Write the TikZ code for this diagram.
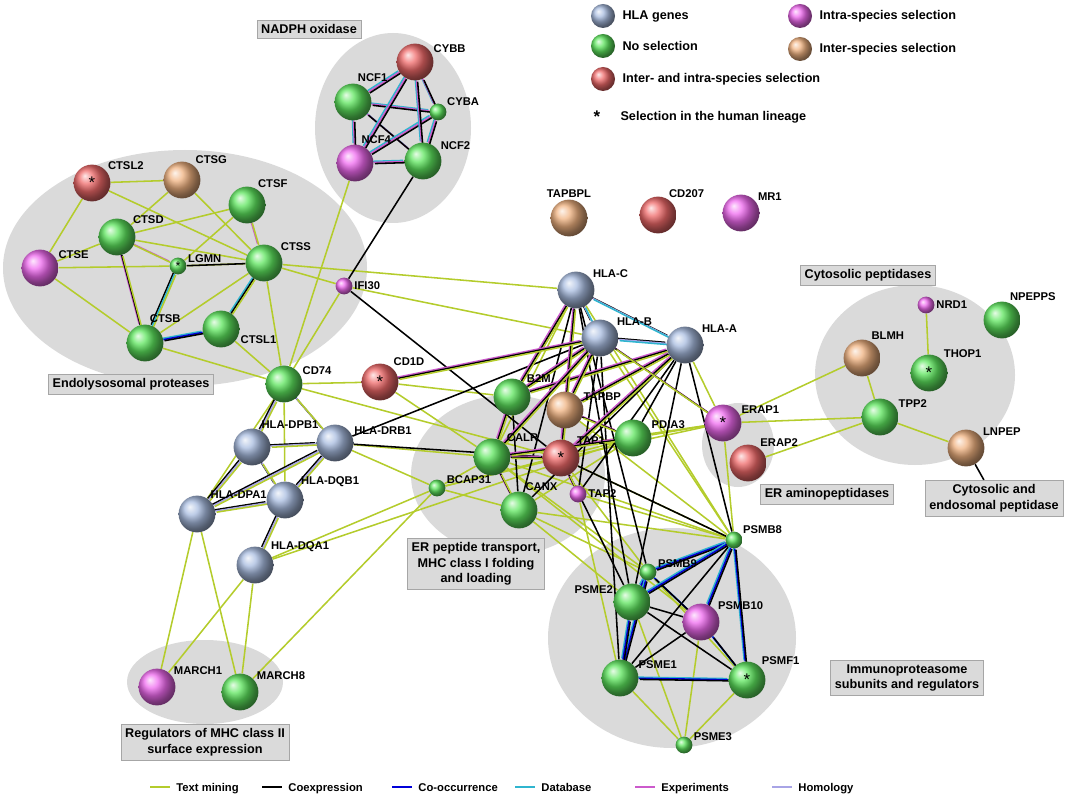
\documentclass[tikz,border=0pt]{standalone}
\usepackage{fontspec}
\setmainfont{Liberation Sans}
\usetikzlibrary{positioning,shapes.geometric}
\definecolor{cBlue}{HTML}{A8BCE0}
\definecolor{cGreen}{HTML}{5EE65E}
\definecolor{cRed}{HTML}{F06A6A}
\definecolor{cMag}{HTML}{F06AF0}
\definecolor{cOr}{HTML}{F0B280}
\definecolor{cTm}{HTML}{B4CC2C}
\definecolor{cDb}{HTML}{2FB5CF}
\definecolor{cHm}{HTML}{A8A4E6}
\definecolor{cGrey}{HTML}{DADADA}
\pgfdeclarelayer{bg}
\pgfsetlayers{bg,main}
\tikzset{
  big/.style={circle, minimum size=0.92cm, inner sep=0pt, font=\large},
  small/.style={circle, minimum size=0.42cm, inner sep=0pt, font=\small},
  gb/.style={ball color=cBlue},
  gg/.style={ball color=cGreen},
  gr/.style={ball color=cRed},
  gm/.style={ball color=cMag},
  go/.style={ball color=cOr},
  lb/.style={font=\bfseries\footnotesize, inner sep=1pt, text=black},
  kl/.style={font=\bfseries\small, inner sep=1pt, text=black, label distance=4pt},
  box/.style={draw=gray!70, fill=cGrey, font=\bfseries\small, align=center, inner sep=3pt},
  grp/.style={fill=cGrey, draw=none},
  tm/.style={cTm, line width=1.1pt},
  co/.style={black, line width=1.1pt},
  oc/.style={blue!85!black, line width=1.1pt},
  db/.style={cDb, line width=1.1pt},
  ex/.style={cMag!85!black, line width=1.1pt},
  hm/.style={cHm, line width=1.1pt},
}
\newcommand\ml[3]{\foreach[count=\i] \c in {#3}{\draw[\c, transform canvas={xshift=(\i-2)*0.8pt, yshift=-(\i-2)*0.8pt}] (#1) -- (#2);}}
\begin{document}
\begin{tikzpicture}[x=0.025cm, y=-0.025cm]
\useasboundingbox (0,0) rectangle (1077,800);
% groups
\begin{pgfonlayer}{bg}
\fill[grp] (393,128) ellipse (78 and 95);
\fill[grp] (185,268) ellipse (182 and 118);
\fill[grp] (508,475) ellipse (97 and 80);
\fill[grp] (738,445) ellipse (36 and 42);
\fill[grp] (915,375) ellipse (100 and 90);
\fill[grp] (672,638) ellipse (124 and 110);
\fill[grp] (205,682) ellipse (78 and 42);
\end{pgfonlayer}
% NADPH oxidase
\node[big, gr, label={[lb]25:CYBB}] (CYBB) at (415,62) {};
\node[big, gg, label={[lb]80:NCF1}] (NCF1) at (353,102) {};
\node[small, gg, label={[lb]30:CYBA}] (CYBA) at (438,112) {};
\node[big, gm, label={[lb]75:NCF4}] (NCF4) at (355,163) {};
\node[big, gg, label={[lb]30:NCF2}] (NCF2) at (423,161) {};
% endolysosomal
\node[big, gr, label={[lb]40:CTSL2}] (CTSL2) at (92,183) {*};
\node[big, go, label={[lb]50:CTSG}] (CTSG) at (182,180) {};
\node[big, gg, label={[lb]60:CTSF}] (CTSF) at (247,205) {};
\node[big, gg, label={[lb]40:CTSD}] (CTSD) at (117,237) {};
\node[big, gm, label={[lb]25:CTSE}] (CTSE) at (40,268) {};
\node[small, gg, label={[lb]10:LGMN}] (LGMN) at (178,266) {*};
\node[big, gg, label={[lb]35:CTSS}] (CTSS) at (264,263) {};
\node[small, gm, label={[lb]0:IFI30}] (IFI30) at (344,286) {};
\node[big, gg, label={[lb]-15:CTSL1}] (CTSL1) at (221,329) {};
\node[big, gg, label={[lb]80:CTSB}] (CTSB) at (145,343) {};
% MHC class II
\node[big, gg, label={[lb]25:CD74}] (CD74) at (284,384) {};
\node[big, gr, label={[lb]50:CD1D}] (CD1D) at (380,382) {*};
\node[big, gb, label={[lb]65:HLA-DPB1}] (HLA-DPB1) at (252,447) {};
\node[big, gb, label={[lb]20:HLA-DRB1}] (HLA-DRB1) at (335,443) {};
\node[big, gb, label={[lb]50:HLA-DPA1}] (HLA-DPA1) at (197,514) {};
\node[big, gb, label={[lb]40:HLA-DQB1}] (HLA-DQB1) at (285,500) {};
\node[big, gb, label={[lb]40:HLA-DQA1}] (HLA-DQA1) at (255,565) {};
\node[big, gm, label={[lb]35:MARCH1}] (MARCH1) at (157,687) {};
\node[big, gg, label={[lb]35:MARCH8}] (MARCH8) at (240,692) {};
% singletons
\node[big, go, label={[lb]90:TAPBPL}] (TAPBPL) at (569,218) {};
\node[big, gr, label={[lb]60:CD207}] (CD207) at (658,215) {};
\node[big, gm, label={[lb]35:MR1}] (MR1) at (741,213) {};
% MHC class I
\node[big, gb, label={[lb]35:HLA-C}] (HLA-C) at (576,290) {};
\node[big, gb, label={[lb]35:HLA-B}] (HLA-B) at (600,338) {};
\node[big, gb, label={[lb]35:HLA-A}] (HLA-A) at (685,345) {};
\node[big, gg, label={[lb]45:B2M}] (B2M) at (512,397) {};
\node[big, go, label={[lb]25:TAPBP}] (TAPBP) at (565,410) {};
\node[big, gg, label={[lb]25:PDIA3}] (PDIA3) at (633,438) {};
\node[big, gg, label={[lb]45:CALR}] (CALR) at (492,457) {};
\node[big, gr, label={[lb]40:TAP1}] (TAP1) at (561,458) {*};
\node[small, gg, label={[lb]20:BCAP31}] (BCAP31) at (437,488) {};
\node[big, gg, label={[lb]75:CANX}] (CANX) at (519,510) {};
\node[small, gm, label={[lb]0:TAP2}] (TAP2) at (578,494) {};
\node[big, gm, label={[lb]25:ERAP1}] (ERAP1) at (723,423) {*};
\node[big, gr, label={[lb]55:ERAP2}] (ERAP2) at (748,463) {};
% cytosolic
\node[small, gm, label={[lb]0:NRD1}] (NRD1) at (926,305) {};
\node[big, gg, label={[lb]70:NPEPPS}] (NPEPPS) at (1002,320) {};
\node[big, go, label={[lb]65:BLMH}] (BLMH) at (862,358) {};
\node[big, gg, label={[lb]45:THOP1}] (THOP1) at (929,373) {*};
\node[big, gg, label={[lb]25:TPP2}] (TPP2) at (880,417) {};
\node[big, go, label={[lb]35:LNPEP}] (LNPEP) at (966,448) {};
% immunoproteasome
\node[small, gg, label={[lb]30:PSMB8}] (PSMB8) at (734,540) {};
\node[small, gg, label={[lb]15:PSMB9}] (PSMB9) at (648,572) {};
\node[big, gg, label={[lb]160:PSME2}] (PSME2) at (632,602) {};
\node[big, gm, label={[lb]35:PSMB10}] (PSMB10) at (701,622) {};
\node[big, gg, label={[lb]25:PSME1}] (PSME1) at (620,678) {};
\node[big, gg, label={[lb]45:PSMF1}] (PSMF1) at (747,680) {*};
\node[small, gg, label={[lb]20:PSME3}] (PSME3) at (684,745) {};
% edges
\begin{pgfonlayer}{bg}
\foreach \a/\b in {CTSL2/CTSG, CTSL2/CTSE, CTSL2/CTSS, CTSG/CTSD, CTSG/CTSS, CTSD/CTSE, CTSD/CTSF,
  CTSD/CTSS, CTSE/LGMN, CTSE/CTSB, CTSF/LGMN, CTSS/LGMN, CTSS/CTSB, CTSS/CD74, CTSL1/CD74,
  CTSB/CD74, CTSS/IFI30, IFI30/CD74, CD74/NCF4, CD74/CD1D, CD74/HLA-DPA1, CD74/HLA-DQB1,
  CD1D/B2M, CD1D/CALR, CTSS/HLA-C, HLA-DQA1/MARCH1, HLA-DQA1/MARCH8, HLA-DPA1/MARCH1,
  HLA-DPA1/MARCH8, HLA-DQA1/BCAP31, HLA-DRB1/CALR, HLA-DRB1/BCAP31, MARCH8/BCAP31,
  HLA-DQA1/PDIA3, BCAP31/CANX, BCAP31/CALR, BCAP31/TAP1, ERAP1/TPP2, ERAP1/BLMH, ERAP2/TPP2,
  BLMH/TPP2, THOP1/NRD1, TPP2/LNPEP, ERAP1/TAP1, ERAP1/HLA-A, ERAP1/PDIA3, ERAP1/CALR,
  PSMB8/TAP1, PSMB8/TAP2, PSMB8/CALR, PSMB8/CANX, PSMB9/TAP1, PSMB9/CANX, PSMB9/CALR,
  PSME1/PSME3, PSMF1/PSME3, PSMB10/PSME3, PSME2/PSME3, PSMB9/PSMF1, CANX/PSME2,
  HLA-C/PSMB8, HLA-B/PSMB8, ERAP1/PSMB8, CALR/PSMB10, TAP2/PSME1, CD74/TAP1, IFI30/HLA-B,
  CANX/PDIA3, BCAP31/PDIA3, CALR/HLA-C, TAPBP/PSMB8}
  \draw[tm] (\a) -- (\b);
\foreach \a/\b in {NCF2/IFI30, IFI30/TAP1, LGMN/CTSS, HLA-DRB1/HLA-B, HLA-DRB1/TAP1,
  HLA-C/PSMB9, HLA-A/PSMB8, HLA-A/CANX, HLA-B/PSME1, HLA-C/PSME2, TAP1/PSME2, TAP1/PSMB8,
  HLA-A/PSME2, PSMB8/PSME1, PSMB10/PSME1, PSME2/PSMB10, PSME2/PSMF1, HLA-B/TAP2, HLA-A/TAP2,
  HLA-C/CANX, HLA-A/PDIA3, B2M/CANX}
  \draw[co] (\a) -- (\b);
\foreach \a/\b in {NCF1/NCF4, NCF1/NCF2, NCF1/CYBB, NCF1/CYBA, NCF4/NCF2, NCF4/CYBB,
  NCF4/CYBA, NCF2/CYBB, NCF2/CYBA, CYBB/CYBA}
  \ml{\a}{\b}{db,ex,co};
\ml{CTSD}{CTSB}{ex,co,tm}
\ml{CTSL1}{CTSB}{db,oc,co}
\ml{CTSS}{CTSL1}{db,co,tm}
\ml{LGMN}{CTSB}{co,db,tm}
\ml{CTSF}{CTSS}{ex,tm}
\ml{CTSD}{LGMN}{ex,tm}
\ml{CD74}{HLA-DPB1}{co,hm,tm}
\ml{CD74}{HLA-DRB1}{co,hm,tm}
\foreach \a/\b in {HLA-DPB1/HLA-DRB1, HLA-DPB1/HLA-DPA1, HLA-DPB1/HLA-DQB1, HLA-DRB1/HLA-DQB1,
  HLA-DPA1/HLA-DQB1, HLA-DQB1/HLA-DQA1, HLA-DRB1/HLA-DPA1}
  \ml{\a}{\b}{co,hm,tm};
\foreach \a/\b in {HLA-C/HLA-B, HLA-B/HLA-A, HLA-C/HLA-A}
  \ml{\a}{\b}{co,hm,db};
\foreach \a/\b in {B2M/HLA-A, B2M/HLA-B, B2M/HLA-C, TAPBP/TAP1, TAP1/TAP2, CALR/TAP1,
  CALR/CANX, PDIA3/TAPBP, HLA-A/TAP1, HLA-B/TAPBP, HLA-C/TAP1, CALR/B2M, PDIA3/CALR,
  HLA-B/CALR, HLA-A/TAPBP, ERAP1/HLA-B, CD1D/HLA-B}
  \ml{\a}{\b}{ex,co,tm};
\foreach \a/\b in {PSMB8/PSMB9, PSMB9/PSMB10, PSMB8/PSMB10, PSMB9/PSME2, PSMB9/PSME1,
  PSME2/PSME1, PSMB8/PSMF1, PSMB10/PSMF1, PSME1/PSMF1, PSME2/PSMB8}
  \ml{\a}{\b}{db,oc,co};
\end{pgfonlayer}
% group labels
\node[box] (tNADPH) at (309,29) {NADPH oxidase};
\node[box] (tEndo) at (131,384) {Endolysosomal proteases};
\node[box] (tCyto) at (868,275) {Cytosolic peptidases};
\node[box] (tERap) at (827,494) {ER aminopeptidases};
\node[box] (tCE) at (994,498) {Cytosolic and\\endosomal peptidase};
\draw[co] (LNPEP) -- (tCE);
\node[box] (tER) at (476,564) {ER peptide transport,\\MHC class I folding\\and loading};
\node[box] (tImm) at (907,678) {Immunoproteasome\\subunits and regulators};
\node[box] (tReg) at (205,742) {Regulators of MHC class II\\surface expression};
% legend
\node[small, gb, minimum size=0.6cm, label={[kl]0:HLA genes}] (kB) at (603,16) {};
\node[small, gg, minimum size=0.6cm, label={[kl]0:No selection}] (kG) at (603,46) {};
\node[small, gr, minimum size=0.6cm, label={[kl]0:Inter- and intra-species selection}] (kR) at (603,79) {};
\node[lb, font=\bfseries\large] (kS) at (597,117) {*};
\node[lb, font=\bfseries\small, right=12pt of kS] (kSt) {Selection in the human lineage};
\node[small, gm, minimum size=0.6cm, label={[kl]0:Intra-species selection}] (kM) at (800,16) {};
\node[small, go, minimum size=0.6cm, label={[kl]0:Inter-species selection}] (kO) at (800,49) {};
\foreach \x/\s/\t in {150/tm/Text mining, 262/co/Coexpression, 392/oc/Co-occurrence,
  515/db/Database, 635/ex/Experiments, 772/hm/Homology}{
  \coordinate (l\x) at (\x,787);
  \draw[\s] (l\x) -- ++(20,0) node[lb, right=3pt, text height=1.6ex, text depth=0.4ex] {\t};
}
\end{tikzpicture}
\end{document}
